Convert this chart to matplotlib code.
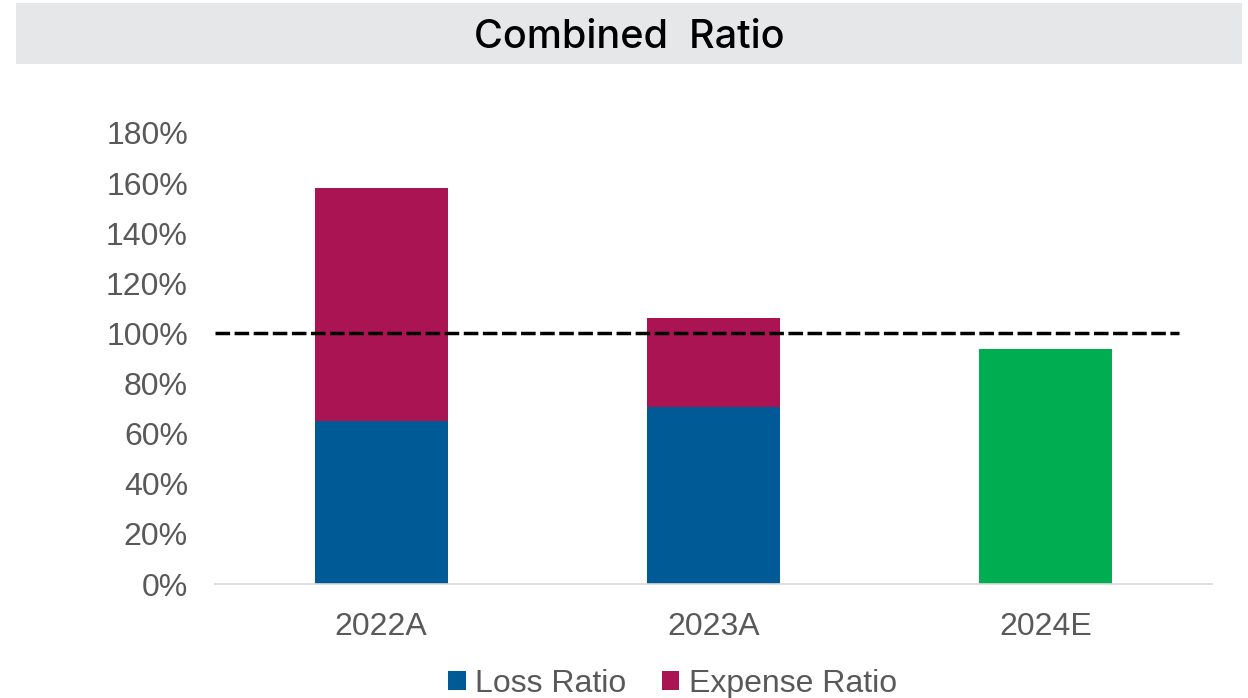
import matplotlib.pyplot as plt
from matplotlib.patches import Rectangle
from matplotlib.ticker import FuncFormatter

years = ["2022A", "2023A", "2024E"]
loss_ratio = [65, 70.6, 0]
expense_ratio = [93, 35.4, 0]
combined_2024e = 93.8
breakeven = 100

blue = "#005A96"
magenta = "#AB1453"
green = "#00AE51"
grey_text = "#595959"

plt.rcParams["font.family"] = ["Liberation Sans", "DejaVu Sans"]

fig = plt.figure(figsize=(12.48, 6.98), dpi=100)

# grey title band
fig.patches.append(Rectangle((16 / 1248, 1 - 64 / 698), 1226 / 1248, 61 / 698,
                             transform=fig.transFigure, facecolor="#E6E7E9",
                             edgecolor="none", zorder=0))
fig.text(0.504, 1 - 38 / 698, "Combined  Ratio", ha="center", va="center",
         fontsize=28.5, fontweight="medium", family=["Inter", "DejaVu Sans"],
         color="black")

ax = fig.add_axes([0.1723, 0.1633, 0.7987, 0.6462])
x = range(len(years))

ax.bar(x[:2], loss_ratio[:2], width=0.4, color=blue, label="Loss Ratio")
ax.bar(x[:2], expense_ratio[:2], width=0.4, bottom=loss_ratio[:2],
       color=magenta, label="Expense Ratio")
ax.bar([2], [combined_2024e], width=0.4, color=green)

ax.plot([-0.5, 2.4], [breakeven, breakeven], color="black", lw=2.5,
        ls=(0, (4.2, 1.3)), zorder=5)

ax.set_xlim(-0.5, 2.5)
ax.set_ylim(0, 180)
ax.set_yticks(range(0, 181, 20))
ax.yaxis.set_major_formatter(FuncFormatter(lambda v, p: f"{v:.0f}%"))
ax.set_xticks(list(x))
ax.set_xticklabels(years)
ax.tick_params(axis="both", length=0, labelsize=23, colors=grey_text)
ax.tick_params(axis="y", pad=19.5)
ax.tick_params(axis="x", pad=20)

for side in ["top", "right", "left"]:
    ax.spines[side].set_visible(False)
ax.spines["bottom"].set_color("#D9D9D9")
ax.spines["bottom"].set_linewidth(1.2)

leg = ax.legend(loc="upper center", bbox_to_anchor=(0.459, -0.124), ncol=2,
                frameon=False, fontsize=23, handlelength=0.55,
                handleheight=0.55, handletextpad=0.3, columnspacing=1.1)
for t in leg.get_texts():
    t.set_color(grey_text)

fig.savefig("out.png", dpi=100)
